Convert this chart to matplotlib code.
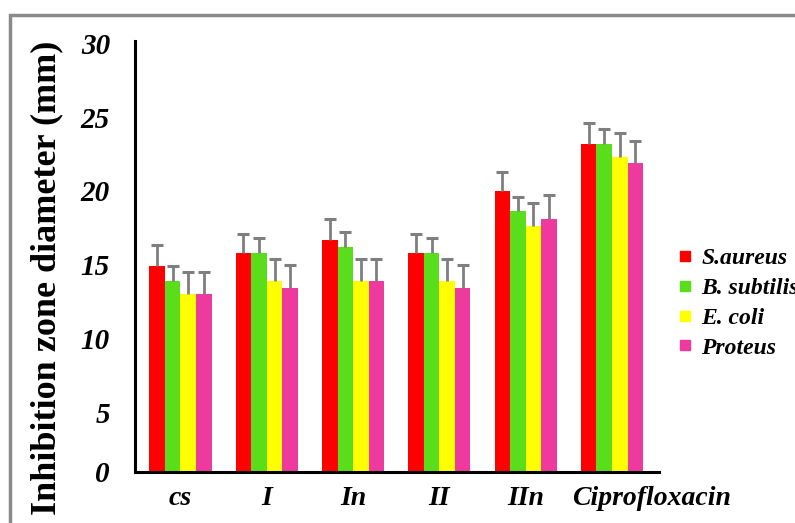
import matplotlib
matplotlib.use("Agg")
import matplotlib.pyplot as plt
import numpy as np
from matplotlib.lines import Line2D
from matplotlib.patches import Rectangle
from matplotlib.transforms import ScaledTranslation

compounds = ["cs", "I", "In", "II", "IIn", "Ciprofloxacin"]
strains = ["S.aureus", "B. subtilis", "E. coli", "Proteus"]
colors = ["#ff0000", "#5ade1c", "#ffff00", "#ee3a9e"]

s_aureus = [14.9, 15.8, 16.7, 15.8, 20.0, 23.2]
b_subtilis = [13.9, 15.8, 16.2, 15.8, 18.6, 23.2]
e_coli = [13.0, 13.9, 13.9, 13.9, 17.6, 22.3]
proteus = [13.0, 13.4, 13.9, 13.4, 18.1, 21.9]

s_aureus_err = [1.4, 1.3, 1.4, 1.3, 1.3, 1.4]
b_subtilis_err = [1.0, 1.0, 1.0, 1.0, 1.0, 1.0]
e_coli_err = [1.5, 1.5, 1.5, 1.5, 1.6, 1.6]
proteus_err = [1.5, 1.6, 1.5, 1.6, 1.6, 1.5]

y_ticks = [0, 5, 10, 15, 20, 25, 30]

values = [s_aureus, b_subtilis, e_coli, proteus]
errors = [s_aureus_err, b_subtilis_err, e_coli_err, proteus_err]

fig = plt.figure(figsize=(7.95, 5.23), dpi=100)
ax = fig.add_axes([135 / 795, 51 / 523, 524 / 795, 431 / 523])

x = np.arange(len(compounds))
width = 0.18
for i, (vals, errs) in enumerate(zip(values, errors)):
    pos = x + (i - 1.5) * width
    vals = np.array(vals)
    tops = vals + np.array(errs)
    ax.bar(pos, vals, width, color=colors[i], label=strains[i], zorder=2)
    # upper error bar only
    ax.vlines(pos, vals, tops, color="#7f7f7f", linewidth=2, zorder=3)
    ax.plot(pos, tops, ls="none", marker="_", markersize=9, markeredgewidth=2.2,
            color="#7f7f7f", zorder=3)

# the value axis starts a little above zero in the original
y_bottom = 0.95
ax.set_ylim(y_bottom, 30.15)
ax.set_xlim(-0.527, 5.545)
ax.set_yticks([y_bottom] + y_ticks[1:], [str(t) for t in y_ticks])
ax.set_xticks(x, compounds)

tick_font = dict(family="Liberation Serif", weight="bold", style="italic")
for lab in ax.get_yticklabels():
    lab.set(**tick_font, size=21)
for lab in ax.get_xticklabels():
    lab.set(**tick_font, size=20)
ax.tick_params(axis="y", length=0, pad=18)
ax.tick_params(axis="x", length=0, pad=10)

# last label sits to the right of its group in the original
last = ax.get_xticklabels()[-1]
last.set_transform(last.get_transform() + ScaledTranslation(0.4, 0, fig.dpi_scale_trans))

for side in ["top", "right"]:
    ax.spines[side].set_visible(False)
for side in ["left", "bottom"]:
    ax.spines[side].set_linewidth(2.2)
    ax.spines[side].set_color("black")

fig.text(47 / 795, 1 - 278 / 523, "Inhibition zone diameter (mm)", rotation=90,
         ha="center", va="center", family="Liberation Serif", weight="bold",
         size=26)

handles = [Line2D([], [], ls="none", marker="s", markersize=7, color=c) for c in colors]
fig.legend(handles, strains, loc="upper left", bbox_to_anchor=(667 / 795, 1 - 236 / 523),
           frameon=False, prop=dict(family="Liberation Serif", weight="bold",
                                    style="italic", size=17),
           handlelength=0.5, handletextpad=0.45, labelspacing=0.35, borderpad=0)

fig.patches.append(Rectangle((10 / 795, -0.1), 1.2, 1.1 - 15 / 523, transform=fig.transFigure,
                             fill=False, edgecolor="#8a8a8a", linewidth=2.5))

fig.savefig("out.png", dpi=100)
